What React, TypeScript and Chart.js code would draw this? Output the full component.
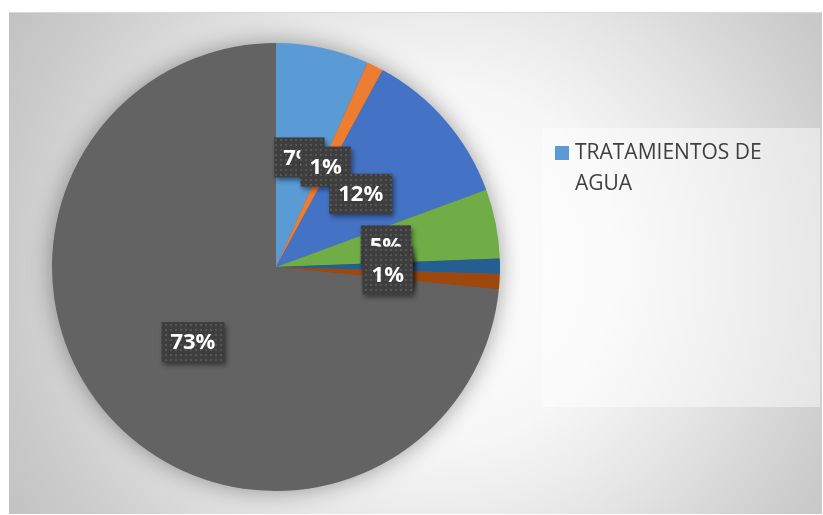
import React, { useEffect, useRef } from "react";
import { Chart, registerables } from "chart.js";

Chart.register(...registerables);

// ---- data ----
const categories = [
  "TRATAMIENTOS DE AGUA",
  "Categoría 2",
  "Categoría 3",
  "Categoría 4",
  "Categoría 5",
  "Categoría 6",
  "Categoría 7",
];
const values = [6.7, 1.2, 11.5, 5.0, 1.1, 1.1, 73.4];
const colors = ["#5B9BD5", "#ED7D31", "#4472C4", "#70AD47", "#255E91", "#9E480E", "#636363"];
const legendVisibleCount = 1;

const FONT = '"Open Sans", "DejaVu Sans", sans-serif';

function makePattern(ctx: CanvasRenderingContext2D) {
  const c = document.createElement("canvas");
  c.width = 5;
  c.height = 5;
  const p = c.getContext("2d")!;
  p.fillStyle = "#3e3e3e";
  p.fillRect(0, 0, 5, 5);
  p.fillStyle = "#555555";
  p.fillRect(1, 1, 2, 2);
  return ctx.createPattern(c, "repeat")!;
}

const pieShadowPlugin = {
  id: "pieShadow",
  beforeDatasetsDraw(chart: any) {
    const meta = chart.getDatasetMeta(0);
    const arc = meta.data[0];
    if (!arc) return;
    const ctx = chart.ctx;
    ctx.save();
    ctx.shadowColor = "rgba(0,0,0,0.4)";
    ctx.shadowBlur = 24;
    ctx.fillStyle = "#636363";
    ctx.beginPath();
    ctx.arc(arc.x, arc.y, arc.outerRadius - 1, 0, Math.PI * 2);
    ctx.fill();
    ctx.restore();
  },
};

const dataLabelPlugin = {
  id: "boxLabels",
  afterDatasetsDraw(chart: any) {
    const ctx = chart.ctx as CanvasRenderingContext2D;
    const meta = chart.getDatasetMeta(0);
    const data = chart.data.datasets[0].data as number[];
    const total = data.reduce((a, b) => a + b, 0);
    const pattern = makePattern(ctx);
    ctx.save();
    ctx.font = `bold 22px ${FONT}`;
    meta.data.forEach((arc: any, i: number) => {
      const pos = arc.tooltipPosition(false);
      const text = Math.round((data[i] / total) * 100) + "%";
      const w = ctx.measureText(text).width + 18;
      const h = 40;
      const x = pos.x - w / 2;
      const y = pos.y - h / 2;
      ctx.save();
      ctx.shadowColor = "rgba(0,0,0,0.45)";
      ctx.shadowBlur = 5;
      ctx.shadowOffsetX = 2;
      ctx.shadowOffsetY = 3;
      ctx.fillStyle = pattern;
      ctx.fillRect(x, y, w, h);
      ctx.restore();
      ctx.fillStyle = "#ffffff";
      ctx.textAlign = "center";
      ctx.textBaseline = "middle";
      ctx.fillText(text, pos.x, pos.y + 1);
    });
    ctx.restore();
  },
};

const legendPlugin = {
  id: "customLegend",
  afterDraw(chart: any) {
    const ctx = chart.ctx as CanvasRenderingContext2D;
    const box = { x: 533, y: 115, w: 278, h: 279 };
    ctx.save();
    ctx.fillStyle = "rgba(255,255,255,0.45)";
    ctx.fillRect(box.x, box.y, box.w, box.h);
    ctx.font = `21px ${FONT}`;
    ctx.textBaseline = "middle";
    ctx.textAlign = "left";
    const labels = chart.data.labels as string[];
    const bg = chart.data.datasets[0].backgroundColor as string[];
    let y = 140;
    for (let i = 0; i < legendVisibleCount; i++) {
      ctx.fillStyle = bg[i];
      ctx.fillRect(546, y - 7, 14, 14);
      ctx.fillStyle = "#404040";
      const words = labels[i].split(" ");
      const maxW = 210;
      let line = "";
      const lines: string[] = [];
      for (const wd of words) {
        const test = line ? line + " " + wd : wd;
        if (ctx.measureText(test).width > maxW && line) {
          lines.push(line);
          line = wd;
        } else line = test;
      }
      if (line) lines.push(line);
      lines.forEach((ln, k) => ctx.fillText(ln, 566, y + k * 31));
      y += lines.length * 31 + 10;
    }
    ctx.restore();
  },
};

export default function App() {
  const ref = useRef<HTMLCanvasElement>(null);
  useEffect(() => {
    if (!ref.current) return;
    const chart = new Chart(ref.current, {
      type: "pie",
      data: {
        labels: categories,
        datasets: [
          {
            data: values,
            backgroundColor: colors,
            borderWidth: 0,
          },
        ],
      },
      options: {
        responsive: false,
        animation: false,
        devicePixelRatio: 1,
        layout: { padding: { top: 30, bottom: 24, left: 43, right: 322 } },
        plugins: {
          legend: { display: false },
          tooltip: { enabled: false },
        },
      },
      plugins: [pieShadowPlugin, dataLabelPlugin, legendPlugin],
    });
    return () => chart.destroy();
  }, []);

  return (
    <div
      style={{
        position: "fixed",
        left: 9,
        top: 12,
        width: 813,
        height: 502,
        boxSizing: "border-box",
        borderTop: "1px solid #d9d9d9",
        background:
          "radial-gradient(circle 500px at 431px 253px, #ffffff 0%, #f7f7f7 35%, #ededed 48%, #e3e3e3 60%, #cbcbcb 86%, #c2c2c2 100%)",
      }}
    >
      <canvas ref={ref} width={813} height={502} style={{ display: "block", position: "absolute", left: 0, top: 0 }} />
    </div>
  );
}
